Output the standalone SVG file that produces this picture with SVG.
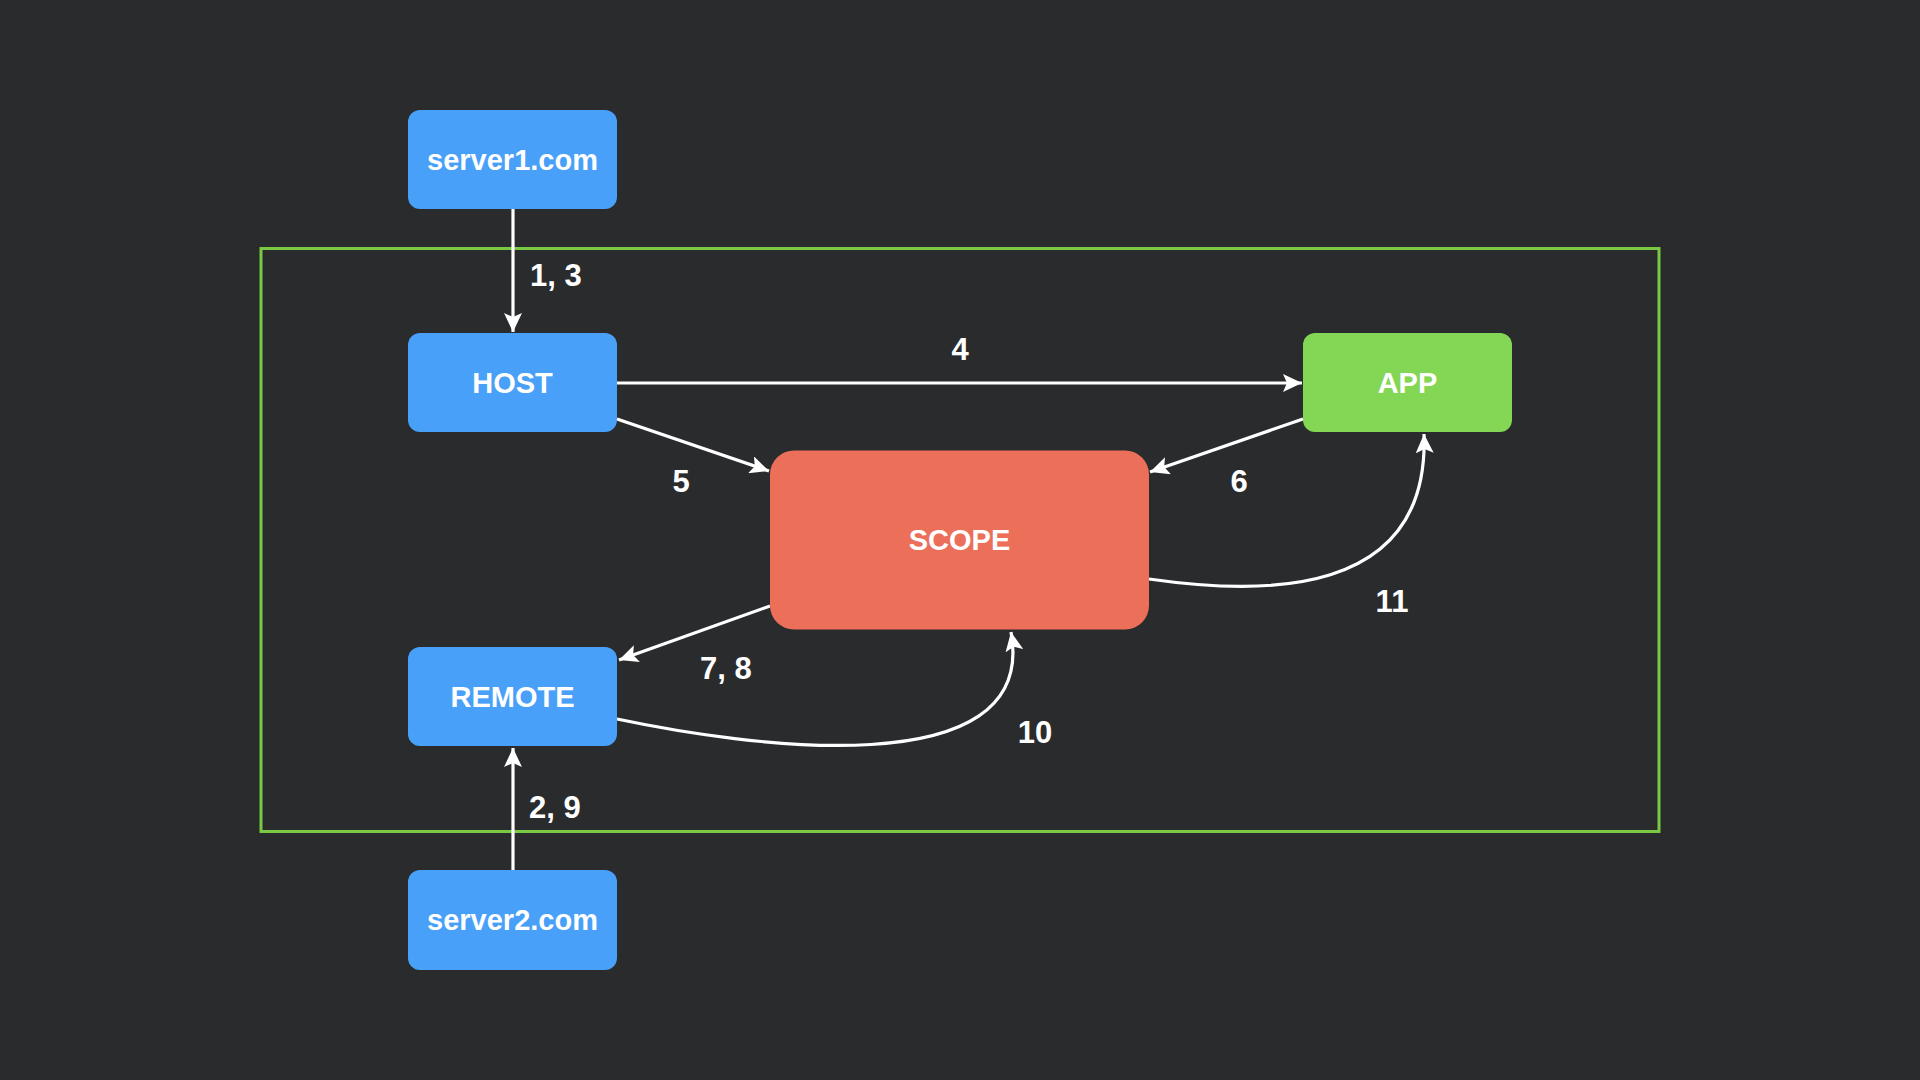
<svg xmlns="http://www.w3.org/2000/svg" width="1920" height="1080" viewBox="0 0 1920 1080">
<defs>
<marker id="ah" markerUnits="userSpaceOnUse" markerWidth="20" markerHeight="18" viewBox="0 0 20 18" refX="19" refY="9" orient="auto">
<path d="M0,0 L19,9 L0,18 L4,9 Z" fill="#ffffff"/>
</marker>
<style>
.node text{font-family:"Liberation Sans",Arial,sans-serif;font-weight:bold;font-size:29px;fill:#ffffff;text-anchor:middle}
.blue{fill:#48A0F8}
.lbl{font-family:"Liberation Sans",Arial,sans-serif;font-weight:bold;font-size:31px;fill:#ffffff}
.conn path{fill:none;stroke:#ffffff;stroke-width:3.2;marker-end:url(#ah)}
</style>
</defs>
<rect x="0" y="0" width="1920" height="1080" fill="#2A2B2D"/>
<rect id="boundary" x="261" y="248.5" width="1398" height="583" fill="none" stroke="#7AC943" stroke-width="3"/>
<g class="conn" id="connectors">
<path d="M513,209 L513,332"/>
<path d="M617,383 L1302,383"/>
<path d="M617,419 L769,471"/>
<path d="M1303,419 L1150,472"/>
<path d="M770,606 L619,660"/>
<path d="M513,870 L513,748"/>
<path d="M617,719 C740,745 1040,790 1011,632"/>
<path d="M1149,579 C1260,595 1430,600 1424,434"/>
</g>
<g id="labels">
<text class="lbl" x="530" y="286">1, 3</text>
<text class="lbl" x="960" y="360" text-anchor="middle">4</text>
<text class="lbl" x="681" y="492" text-anchor="middle">5</text>
<text class="lbl" x="1239" y="492" text-anchor="middle">6</text>
<text class="lbl" x="700" y="679">7, 8</text>
<text class="lbl" x="529" y="818">2, 9</text>
<text class="lbl" x="1035" y="743" text-anchor="middle">10</text>
<text class="lbl" x="1392" y="612" text-anchor="middle">11</text>
</g>
<g class="node" id="server1">
<rect class="blue" x="408" y="110" width="209" height="99" rx="12"/>
<text x="512.5" y="170">server1.com</text>
</g>
<g class="node" id="host">
<rect class="blue" x="408" y="333" width="209" height="99" rx="12"/>
<text x="512.5" y="393">HOST</text>
</g>
<g class="node" id="app">
<rect x="1303" y="333" width="209" height="99" rx="12" fill="#84D655"/>
<text x="1407.5" y="393">APP</text>
</g>
<g class="node" id="scope">
<rect x="770" y="450.5" width="379" height="179" rx="24" fill="#EC6F5A"/>
<text x="959.5" y="550">SCOPE</text>
</g>
<g class="node" id="remote">
<rect class="blue" x="408" y="647" width="209" height="99" rx="12"/>
<text x="512.5" y="707">REMOTE</text>
</g>
<g class="node" id="server2">
<rect class="blue" x="408" y="870" width="209" height="100" rx="12"/>
<text x="512.5" y="930">server2.com</text>
</g>
</svg>
